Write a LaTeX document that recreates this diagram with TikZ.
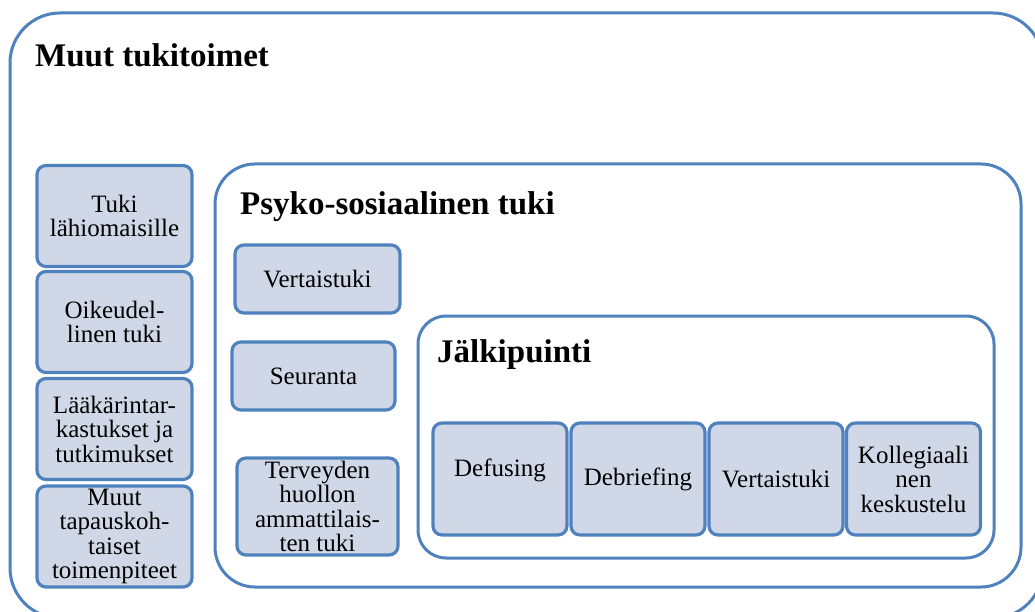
\documentclass[tikz,border=0pt]{standalone}
\usepackage{fontspec}
\setmainfont{Liberation Serif}
\definecolor{boxline}{RGB}{79,129,189}
\definecolor{boxfill}{RGB}{208,216,232}
\tikzset{
    container/.style={draw=boxline, line width=3pt, rounded corners=#1},
    item/.style={draw=boxline, fill=boxfill, line width=3.2pt, rounded corners=9pt,
        align=center, inner sep=0pt, font=\fontsize{25}{24.5}\selectfont},
    heading/.style={anchor=base west, inner sep=0pt, font=\bfseries\fontsize{33}{33}\selectfont}
}

\begin{document}
\begin{tikzpicture}[x=1pt,y=-1pt]
        \useasboundingbox (0,0) rectangle (1035,612);
        \clip (0,0) rectangle (1035,612);
        \draw[container=50pt] (10,13) rectangle (1043,618);
        \draw[container=40pt] (215,164) rectangle (1021,587);
        \draw[container=28pt] (418,316) rectangle (994,558);
        \node[heading] (muut) at (35,67) {Muut tukitoimet};
        \node[heading] (psyko) at (240,215) {Psyko-sosiaalinen tuki};
        \node[heading] (jalki) at (437,362) {Jälkipuinti};
        \foreach \y/\n/\t in {216/tuki/{Tuki\\lähiomaisille}, 322/oikeus/{Oikeudel-\\linen tuki},
                429/laakari/{Lääkärintar-\\kastukset ja\\tutkimukset},
                536.5/toimet/{Muut\\tapauskoh-\\taiset\\toimenpiteet}} {
                \node[item, minimum width=155pt, minimum height=101pt] (\n) at (114.5,\y) {\t};
            }
        \node[item, minimum width=165pt, minimum height=68pt] (vertais) at (317.5,279) {Vertaistuki};
        \node[item, minimum width=163pt, minimum height=68pt] (seuranta) at (313.5,376) {Seuranta};
        \node[item, minimum width=161pt, minimum height=97pt] (terveys) at (317.5,506.5)
            {Terveyden\\huollon\\ammattilais-\\ten tuki};
        \foreach \x/\n/\t in {500/defusing/{\raisebox{22pt}{Defusing}}, 638/debriefing/Debriefing,
                776/vertaisjp/Vertaistuki, 913.5/kollega/{Kollegiaali\\nen\\keskustelu}} {
                \node[item, minimum width=134pt, minimum height=112pt] (\n) at (\x,479) {\t};
            }
    \end{tikzpicture}
\end{document}
